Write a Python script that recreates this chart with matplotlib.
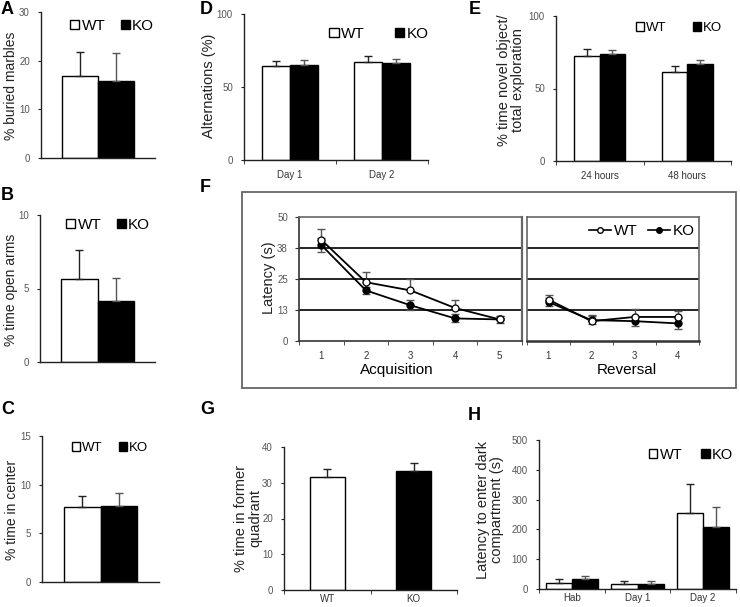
import matplotlib.pyplot as plt
from matplotlib.patches import Patch, Rectangle
from matplotlib.lines import Line2D
import numpy as np

plt.rcParams['font.family'] = ['Liberation Sans', 'DejaVu Sans']

W, H = 740, 607

# A - marble burying
a_wt, a_ko = [16.8], [15.8]
a_wt_err, a_ko_err = [5.0], [5.8]
# B - elevated plus maze
b_wt, b_ko = [5.64], [4.14]
b_wt_err, b_ko_err = [2.0], [1.6]
# C - open field
c_wt, c_ko = [7.7], [7.8]
c_wt_err, c_ko_err = [1.1], [1.35]
# D - Y maze alternations
d_cats = ['Day 1', 'Day 2']
d_wt = [64.3, 67.3]
d_ko = [65.4, 66.6]
d_wt_err = [3.2, 3.6]
d_ko_err = [3.2, 2.5]
# E - novel object
e_cats = ['24 hours', '48 hours']
e_wt = [72.6, 61.1]
e_ko = [73.5, 66.6]
e_wt_err = [4.6, 4.3]
e_ko_err = [2.8, 3.0]
# F - water maze latency
acq_days = [1, 2, 3, 4, 5]
acq_wt = [40.8, 23.7, 20.4, 13.3, 8.7]
acq_wt_err = [4.5, 4.3, 4.4, 3.4, 1.5]
acq_ko = [38.7, 20.4, 14.4, 9.1, 8.7]
acq_ko_err = [3.0, 1.5, 2.0, 1.6, 1.5]
rev_days = [1, 2, 3, 4]
rev_wt = [16.7, 8.0, 9.7, 9.7]
rev_wt_err = [2.0, 2.4, 3.2, 2.4]
rev_ko = [15.7, 8.4, 8.0, 7.1]
rev_ko_err = [1.6, 1.6, 2.0, 2.3]
# G - probe trial
g_cats = ['WT', 'KO']
g_vals = [31.5, 33.3]
g_err = [2.4, 2.1]
# H - passive avoidance
h_cats = ['Hab', 'Day 1', 'Day 2']
h_wt = [21, 17, 256]
h_ko = [34, 17, 207]
h_wt_err = [13, 11, 96]
h_ko_err = [11, 11, 69]

fig = plt.figure(figsize=(7.4, 6.07), dpi=100)


def add_ax(x0, y0, x1, y1):
    return fig.add_axes([x0 / W, 1 - y1 / H, (x1 - x0) / W, (y1 - y0) / H])


def fx(x):
    return x / W


def fy(y):
    return 1 - y / H


def style(ax):
    for s in ['top', 'right']:
        ax.spines[s].set_visible(False)
    for s in ['left', 'bottom']:
        ax.spines[s].set_color('#222222')
        ax.spines[s].set_linewidth(1.0)
    ax.tick_params(axis='y', labelsize=7, labelcolor='#555555', length=2, color='#222222', pad=6)


def bars(ax, wt, ko, wt_err, ko_err, width, ymax, yticks):
    x = np.arange(len(wt))
    ax.bar(x - width / 2, wt, width, color='white', edgecolor='black', lw=1, zorder=2)
    ax.bar(x + width / 2, ko, width, color='black', edgecolor='black', lw=1, zorder=2)
    ax.errorbar(x - width / 2, wt, yerr=[np.zeros(len(wt)), wt_err], fmt='none', ecolor='#222222',
                elinewidth=1, capsize=3, capthick=1, zorder=3)
    ax.errorbar(x + width / 2, ko, yerr=[np.zeros(len(ko)), ko_err], fmt='none', ecolor='#555555',
                elinewidth=1, capsize=3, capthick=1, zorder=3)
    ax.set_ylim(0, ymax)
    ax.set_yticks(yticks)
    ax.set_xlim(-0.5, len(wt) - 0.5)
    style(ax)


def cat_axis(ax, cats, pad=7):
    n = len(cats)
    ax.set_xticks(np.arange(n))
    ax.set_xticklabels(cats)
    ax.set_xticks(np.arange(n + 1) - 0.5, minor=True)
    ax.tick_params(axis='x', which='major', length=0, labelsize=7, labelcolor='#333333', pad=pad)
    ax.tick_params(axis='x', which='minor', length=3, color='#222222')


def no_x(ax):
    ax.set_xticks([])


def box_legend(ax, xc, yc, fs, colsp):
    handles = [Patch(facecolor='white', edgecolor='black', lw=1), Patch(facecolor='black', edgecolor='black')]
    ax.legend(handles, ['WT', 'KO'], loc='center', bbox_to_anchor=(fx(xc), fy(yc)),
              bbox_transform=fig.transFigure, ncol=2, frameon=False, fontsize=fs,
              handlelength=0.6, handleheight=0.6, handletextpad=0.15, columnspacing=colsp,
              borderpad=0, borderaxespad=0)


def ylab(ax, text, x, y, fs=10):
    fig.text(fx(x), fy(y), text, rotation=90, ha='center', va='center', fontsize=fs,
             color='#222222', linespacing=1.0)


def letter(txt, x, y):
    fig.text(fx(x), fy(y), txt, fontsize=13, fontweight='bold', ha='left', va='center')


# Panel A
ax = add_ax(41, 12, 155, 158)
bars(ax, a_wt, a_ko, a_wt_err, a_ko_err, 0.316, 30, [0, 10, 20, 30])
no_x(ax)
box_legend(ax, 112, 26, 11, 1.0)
ylab(ax, '% buried marbles', 11, 86, 10)

# Panel B
ax = add_ax(40, 215, 155, 362)
bars(ax, b_wt, b_ko, b_wt_err, b_ko_err, 0.316, 10, [0, 5, 10])
no_x(ax)
box_legend(ax, 108, 225, 11, 1.0)
ylab(ax, '% time open arms', 11, 290, 10)

# Panel C
ax = add_ax(42, 436, 159, 582)
bars(ax, c_wt, c_ko, c_wt_err, c_ko_err, 0.316, 15, [0, 5, 10, 15])
no_x(ax)
box_legend(ax, 110, 448, 9.5, 1.3)
ylab(ax, '% time in center', 12, 510, 10)

# Panel D
ax = add_ax(244, 14, 428, 160)
bars(ax, d_wt, d_ko, d_wt_err, d_ko_err, 0.30, 100, [0, 50, 100])
cat_axis(ax, d_cats)
box_legend(ax, 379, 34, 11, 2.0)
ylab(ax, 'Alternations (%)', 209, 86, 10.5)

# Panel E
ax = add_ax(556, 16, 731, 161)
bars(ax, e_wt, e_ko, e_wt_err, e_ko_err, 0.29, 100, [0, 50, 100])
cat_axis(ax, e_cats)
box_legend(ax, 679, 28, 9.5, 2.0)
ylab(ax, '% time novel object/\ntotal exploration', 511, 80, 10.5)

# Panel F
fig.patches.append(Rectangle((fx(242), fy(388)), (736 - 242) / W, (388 - 192) / H,
                             transform=fig.transFigure, fill=False, edgecolor='#666666', lw=1.3))

ax1 = add_ax(299, 217, 522, 341)
ax2 = add_ax(527, 217, 699, 341)
for ax, days, wt, wt_err, ko, ko_err in [(ax1, acq_days, acq_wt, acq_wt_err, acq_ko, acq_ko_err),
                                         (ax2, rev_days, rev_wt, rev_wt_err, rev_ko, rev_ko_err)]:
    for g in [12.5, 25, 37.5]:
        ax.axhline(g, color='black', lw=1.2, zorder=1)
    ax.errorbar(days, ko, yerr=ko_err, fmt='none', ecolor='#555555', elinewidth=1,
                capsize=3, capthick=1, zorder=2)
    ax.errorbar(days, wt, yerr=[np.zeros(len(wt)), wt_err], fmt='none', ecolor='#555555',
                elinewidth=1, capsize=3, capthick=1, zorder=2)
    ax.plot(days, wt, color='black', lw=1.3, marker='o', ms=5, mfc='white', mec='black',
            mew=0.9, zorder=4, label='WT')
    ax.plot(days, ko, color='black', lw=1.3, marker='o', ms=5, mfc='black', mec='black',
            zorder=3, label='KO')
    ax.set_ylim(0, 50)
    ax.set_xlim(0.5, len(days) + 0.5)
    ax.set_xticks(days)
    ax.set_xticks(np.arange(len(days) + 1) + 0.5, minor=True)
    ax.tick_params(axis='x', which='major', length=0, labelsize=7, labelcolor='#333333', pad=7)
    ax.tick_params(axis='x', which='minor', length=3, color='#333333')
    for s in ax.spines.values():
        s.set_color('#666666')
        s.set_linewidth(1.2)

ax1.set_yticks([0, 12.5, 25, 37.5, 50])
ax1.set_yticklabels(['0', '13', '25', '38', '50'])
ax1.tick_params(axis='y', labelsize=7, labelcolor='#555555', length=3, color='#333333', pad=5)
ax1.spines['left'].set_color('#333333')
ax1.spines['bottom'].set_color('#333333')
ax1.spines['right'].set_linewidth(1.6)
ax2.set_yticks([])
ax2.spines['bottom'].set_linewidth(1.8)
ax2.spines['bottom'].set_color('#333333')

f_handles = [Line2D([], [], color='black', lw=1.2, marker='o', ms=4, mfc='white', mec='black'),
             Line2D([], [], color='black', lw=1.2, marker='o', ms=4, mfc='black', mec='black')]
ax2.legend(f_handles, ['WT', 'KO'], loc='center', bbox_to_anchor=(fx(642), fy(231)),
           bbox_transform=fig.transFigure, ncol=2, frameon=False, fontsize=11,
           handlelength=1.4, handletextpad=0.2, columnspacing=0.7, borderpad=0, borderaxespad=0)
fig.text(fx(397), fy(370), 'Acquisition', fontsize=11, ha='center', va='center')
fig.text(fx(627), fy(370), 'Reversal', fontsize=11, ha='center', va='center')
ylab(ax1, 'Latency (s)', 269, 278, 10.5)

# Panel G
ax = add_ax(284, 447, 457, 590)
x = np.arange(len(g_cats))
ax.bar(x, g_vals, 0.4, color=['white', 'black'], edgecolor='black', lw=1, zorder=2)
ax.errorbar(x, g_vals, yerr=[np.zeros(len(g_vals)), g_err], fmt='none', ecolor='#222222',
            elinewidth=1, capsize=3, capthick=1, zorder=3)
ax.set_ylim(0, 40)
ax.set_yticks([0, 10, 20, 30, 40])
ax.set_xlim(-0.5, len(g_cats) - 0.5)
style(ax)
cat_axis(ax, g_cats, pad=3)
ylab(ax, '% time in former\nquadrant', 248, 518, 10.5)

# Panel H
ax = add_ax(539, 440, 736, 589)
bars(ax, h_wt, h_ko, h_wt_err, h_ko_err, 0.4, 500, [0, 100, 200, 300, 400, 500])
cat_axis(ax, h_cats, pad=3)
box_legend(ax, 691, 455, 10.5, 1.3)
ylab(ax, 'Latency to enter dark\ncompartment (s)', 490, 510, 10.5)

# panel letters
letter('A', 1, 10)
letter('D', 200, 10)
letter('E', 469, 10)
letter('B', 1, 195)
letter('F', 200, 187)
letter('C', 1, 409)
letter('G', 200, 409)
letter('H', 468, 415)

fig.savefig('out.png', dpi=100)
